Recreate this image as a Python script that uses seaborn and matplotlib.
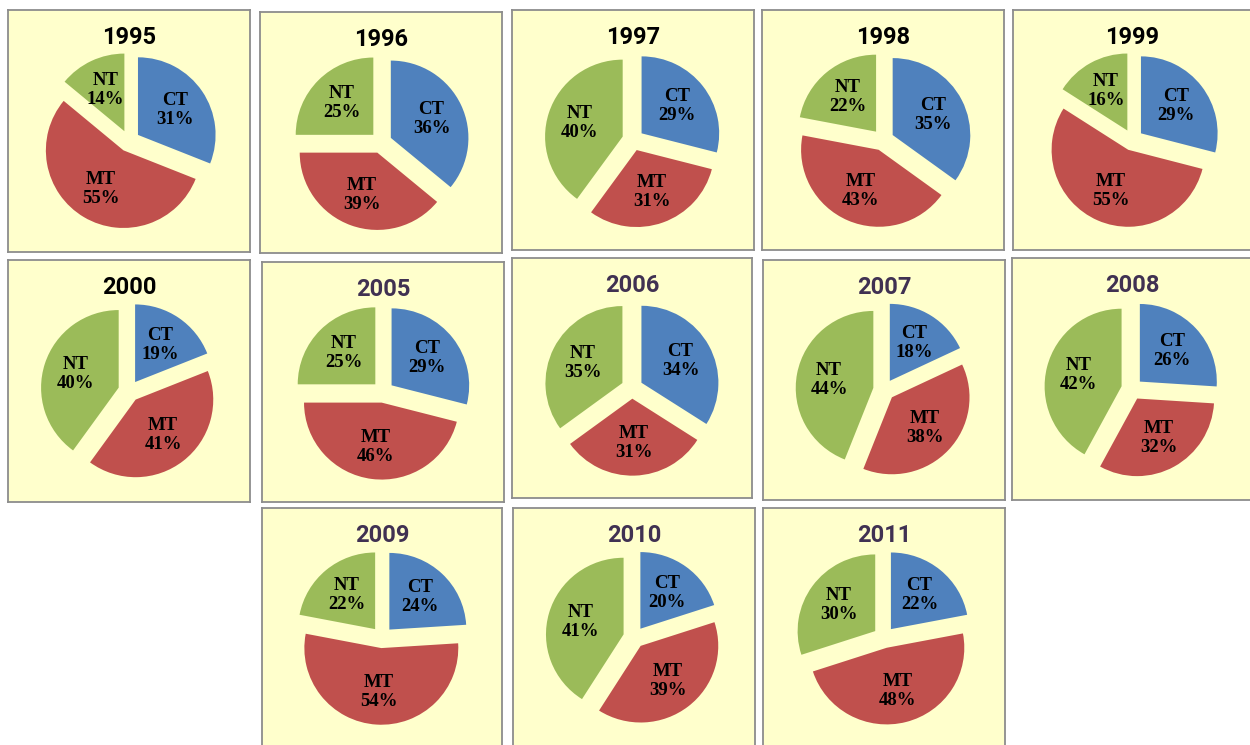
import matplotlib
matplotlib.use("Agg")
import matplotlib.pyplot as plt
import seaborn as sns

# data
years = ["1995", "1996", "1997", "1998", "1999", "2000", "2005",
         "2006", "2007", "2008", "2009", "2010", "2011"]
categories = ["CT", "MT", "NT"]
ct = [31, 36, 29, 35, 29, 19, 29, 34, 18, 26, 24, 20, 22]
mt = [55, 39, 31, 43, 55, 41, 46, 31, 38, 32, 54, 39, 48]
nt = [14, 25, 40, 22, 16, 40, 25, 35, 44, 42, 22, 41, 30]

sns.set_theme(style="white")
colors = ["#4F81BD", "#C0504D", "#9BBB59"]

# panel boxes in pixels (left, top, right, bottom)
W, H = 1250, 745
boxes = [
    (8, 10, 250, 252), (260, 12, 502, 253), (512, 10, 754, 250),
    (762, 10, 1004, 250), (1013, 10, 1252, 250),
    (8, 260, 250, 502), (262, 262, 504, 502), (512, 258, 752, 498),
    (763, 260, 1005, 500), (1012, 258, 1252, 500),
    (262, 508, 502, 747), (513, 508, 755, 747), (763, 508, 1005, 747),
]

fig = plt.figure(figsize=(12.5, 7.45), dpi=100)
fig.patch.set_facecolor("white")

for i, yr in enumerate(years):
    l, t, r, b = boxes[i]
    ax = fig.add_axes([l / W, 1 - b / H, (r - l) / W, (b - t) / H])
    ax.set_facecolor("#FFFFCC")
    for s in ax.spines.values():
        s.set_visible(True)
        s.set_color("#8C8C8C")
        s.set_linewidth(1.3)
    vals = [ct[i], mt[i], nt[i]]
    names = iter(categories)
    ax.pie(
        vals, colors=colors, startangle=90, counterclock=False,
        explode=[0.13, 0.13, 0.13], radius=0.93, center=(0, -0.12),
        autopct=lambda p, n=names: f"{next(n)}\n{p:.0f}%",
        pctdistance=0.58, frame=True,
        wedgeprops=dict(linewidth=0),
        textprops=dict(family="Liberation Serif", fontweight="bold",
                       fontsize=13.5, color="black", linespacing=1.15),
    )
    ax.set_xlim(-1.45, 1.45)
    ax.set_ylim(-1.45, 1.45)
    ax.set_aspect("auto")
    ax.set_xticks([])
    ax.set_yticks([])
    title_color = "black" if int(yr) <= 2000 else "#403152"
    ax.text(0.5, 0.885, yr, transform=ax.transAxes, ha="center", va="center",
            fontsize=17, fontweight="bold", family="Roboto", color=title_color)

fig.savefig("out.png", dpi=100, facecolor="white")
